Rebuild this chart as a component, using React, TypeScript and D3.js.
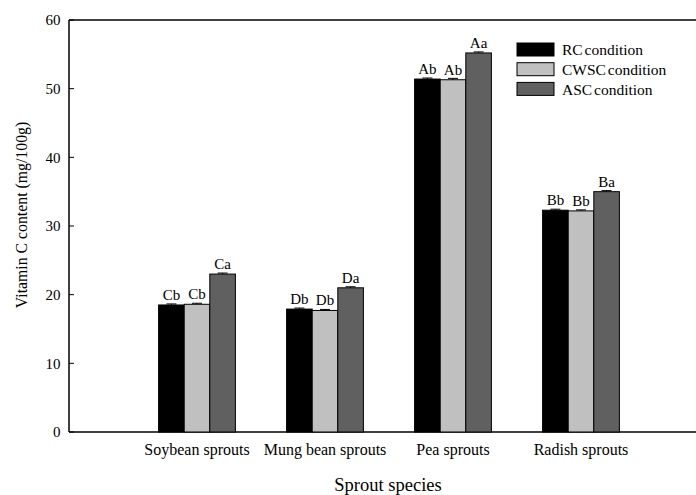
import React from "react";
import * as d3 from "d3";

const categories = ["Soybean sprouts", "Mung bean sprouts", "Pea sprouts", "Radish sprouts"];
const seriesNames = ["RC condition", "CWSC condition", "ASC condition"];
const seriesColors = ["#000000", "#c0c0c0", "#606060"];
const rcValues = [18.5, 17.9, 51.4, 32.3];
const cwscValues = [18.6, 17.7, 51.3, 32.2];
const ascValues = [23.0, 21.0, 55.2, 35.0];
const errValues = [
  [0.15, 0.15, 0.15, 0.15],
  [0.15, 0.15, 0.2, 0.15],
  [0.15, 0.15, 0.15, 0.15],
];
const rcLabels = ["Cb", "Db", "Ab", "Bb"];
const cwscLabels = ["Cb", "Db", "Ab", "Bb"];
const ascLabels = ["Ca", "Da", "Aa", "Ba"];
const yTicks = [0, 10, 20, 30, 40, 50, 60];

const W = 696;
const H = 495;
const left = 69;
const top = 20;
const bottom = 432;

export default function App() {
  const series = [rcValues, cwscValues, ascValues];
  const labels = [rcLabels, cwscLabels, ascLabels];
  const y = d3.scaleLinear().domain([0, 60]).range([bottom, top]);
  const x = d3.scaleLinear().domain([0, 1]).range([left, left + 128]);
  const barW = 25.6;
  const font = "'Liberation Serif', 'Times New Roman', serif";

  return (
    <svg width={W} height={H} style={{ position: "absolute", left: 0, top: 0, fontFamily: font }}>
      <rect x={0} y={0} width={W} height={H} fill="#fff" />
      <line x1={left} x2={W} y1={top} y2={top} stroke="#000" strokeWidth={1.3} />
      <line x1={left} x2={W} y1={bottom} y2={bottom} stroke="#000" strokeWidth={1.5} />
      <line x1={left} x2={left} y1={top} y2={bottom} stroke="#000" strokeWidth={1.5} />
      {yTicks.map((t) => (
        <g key={t}>
          <line x1={left} x2={left + 5} y1={y(t)} y2={y(t)} stroke="#000" strokeWidth={1} />
          <text x={left - 8.5} y={y(t)} dy="0.35em" textAnchor="end" fontSize={15}>
            {t}
          </text>
        </g>
      ))}
      {categories.map((c, i) => {
        const cx = x(i + 1);
        return (
          <g key={c}>
            {series.map((vals, s) => {
              const bx = cx - 1.5 * barW + s * barW;
              const v = vals[i];
              const e = errValues[s][i];
              return (
                <g key={s}>
                  <rect
                    x={bx}
                    y={y(v)}
                    width={barW}
                    height={bottom - y(v)}
                    fill={seriesColors[s]}
                    stroke="#000"
                    strokeWidth={1}
                  />
                  <line x1={bx + barW / 2} x2={bx + barW / 2} y1={y(v)} y2={y(v + e)} stroke="#000" strokeWidth={1} />
                  <line x1={bx + barW / 2 - 5} x2={bx + barW / 2 + 5} y1={y(v + e)} y2={y(v + e)} stroke="#000" strokeWidth={1} />
                  <text x={bx + barW / 2} y={y(v) - 5} textAnchor="middle" fontSize={15}>
                    {labels[s][i]}
                  </text>
                </g>
              );
            })}
            <text x={cx} y={455} textAnchor="middle" fontSize={16}>
              {c}
            </text>
          </g>
        );
      })}
      {seriesNames.map((n, s) => (
        <g key={n}>
          <rect x={517} y={43 + s * 19.7} width={37} height={13} fill={seriesColors[s]} stroke="#000" strokeWidth={1} />
          <text x={562} y={50 + s * 19.7} dy="0.35em" fontSize={15.5} wordSpacing={-2}>
            {n}
          </text>
        </g>
      ))}
      <text
        transform={`translate(27, ${(top + bottom) / 2 - 11}) rotate(-90)`}
        textAnchor="middle"
        fontSize={15.8}
      >
        Vitamin C content (mg/100g)
      </text>
      <text x={388} y={491} textAnchor="middle" fontSize={18.5}>
        Sprout species
      </text>
    </svg>
  );
}
